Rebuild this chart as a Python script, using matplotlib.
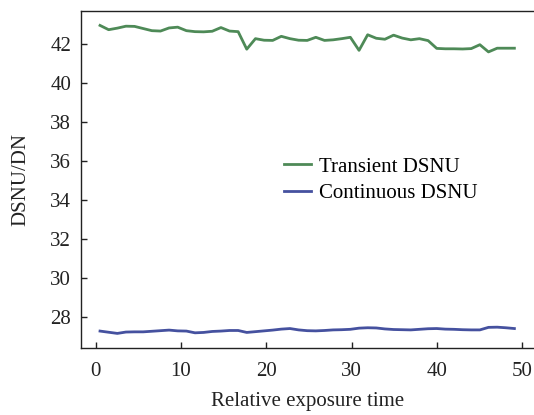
import matplotlib
matplotlib.use("Agg")
import matplotlib.pyplot as plt

# Data
x_vals = [0.5, 1.51, 2.53, 3.54, 4.55, 5.56, 6.58, 7.59, 8.6, 9.61, 10.63, 11.64, 12.65,
          13.66, 14.68, 15.69, 16.7, 17.71, 18.73, 19.74, 20.75, 21.76, 22.78, 23.79, 24.8,
          25.81, 26.83, 27.84, 28.85, 29.86, 30.88, 31.89, 32.9, 33.91, 34.93, 35.94, 36.95,
          37.96, 38.98, 39.99, 41.0, 42.01, 43.03, 44.04, 45.05, 46.06, 47.08, 48.09, 49.1]

transient = [42.96, 42.74, 42.82, 42.92, 42.91, 42.80, 42.69, 42.67, 42.83, 42.87,
             42.69, 42.64, 42.63, 42.66, 42.85, 42.67, 42.64, 41.74, 42.28, 42.20,
             42.19, 42.40, 42.28, 42.20, 42.19, 42.35, 42.19, 42.22, 42.28, 42.35,
             41.68, 42.48, 42.30, 42.25, 42.46, 42.31, 42.22, 42.28, 42.18, 41.78,
             41.76, 41.76, 41.75, 41.77, 41.97, 41.60, 41.79, 41.79, 41.79]

continuous = [27.27, 27.21, 27.15, 27.22, 27.23, 27.23, 27.26, 27.29, 27.32, 27.28,
              27.27, 27.18, 27.20, 27.25, 27.27, 27.30, 27.30, 27.20, 27.24, 27.28,
              27.32, 27.37, 27.40, 27.33, 27.29, 27.28, 27.30, 27.33, 27.34, 27.36,
              27.42, 27.44, 27.43, 27.38, 27.35, 27.34, 27.33, 27.36, 27.39, 27.40,
              27.37, 27.36, 27.34, 27.33, 27.33, 27.46, 27.47, 27.44, 27.40]

x_ticks = [0, 10, 20, 30, 40, 50]
y_ticks = [28, 30, 32, 34, 36, 38, 40, 42]
labels = ["Transient DSNU", "Continuous DSNU"]

plt.rcParams['font.family'] = ['Liberation Serif', 'DejaVu Serif']

fig = plt.figure(figsize=(5.34, 4.15), dpi=100)
ax = fig.add_axes([0.1517, 0.1614, 0.8483, 0.8121])

ax.plot(x_vals, transient, color="#4e8a57", lw=2.0, label=labels[0])
ax.plot(x_vals, continuous, color="#45519f", lw=2.0, label=labels[1])

ax.set_xlim(-1.73, 51.4)
ax.set_ylim(26.4, 43.7)
ax.set_xticks(x_ticks)
ax.set_yticks(y_ticks)
ax.spines['right'].set_visible(False)
for s in ax.spines.values():
    s.set_linewidth(1.0)
    s.set_color("#222222")
ax.tick_params(direction='in', length=4, width=1.0, labelsize=15, colors="#222222")
ax.tick_params(axis='x', pad=10)
ax.tick_params(axis='y', pad=7)
ax.tick_params(axis='y', right=False)

ax.set_xlabel("Relative exposure time", fontsize=15, color="#222222", labelpad=8)
ax.set_ylabel("DSNU/DN", fontsize=15, color="#222222", labelpad=14)

leg = ax.legend(loc='upper left', bbox_to_anchor=(284/534, 1 - 157/415),
                bbox_transform=fig.transFigure, frameon=False, fontsize=15,
                handlelength=1.3, handletextpad=0.4, labelspacing=0.35,
                borderaxespad=0, borderpad=0)

fig.savefig("out.png", dpi=100)
